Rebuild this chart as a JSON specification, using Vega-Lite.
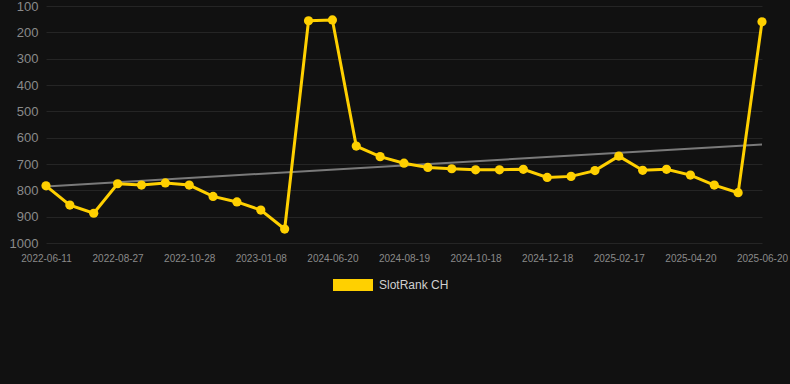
{
  "$schema": "https://vega.github.io/schema/vega-lite/v6.json",
  "width": 716,
  "height": 237,
  "autosize": {"type": "none"},
  "padding": {"left": 46, "top": 6, "right": 28, "bottom": 141},
  "background": "#111111",
  "config": {
    "view": {"stroke": null},
    "font": "Liberation Sans",
    "axis": {"domain": false, "ticks": false, "gridColor": "#252525", "gridWidth": 1, "labelColor": "#8a8a8a"}
  },
  "datasets": {
    "rank": [
      {"date": "2022-06-11", "rank": 783},
      {"date": "2022-07-07", "rank": 856},
      {"date": "2022-08-01", "rank": 887},
      {"date": "2022-08-27", "rank": 775},
      {"date": "2022-09-17", "rank": 780},
      {"date": "2022-10-07", "rank": 772},
      {"date": "2022-10-28", "rank": 780},
      {"date": "2022-11-21", "rank": 823},
      {"date": "2022-12-15", "rank": 844},
      {"date": "2023-01-08", "rank": 875},
      {"date": "2023-02-01", "rank": 947},
      {"date": "2024-05-28", "rank": 156},
      {"date": "2024-06-20", "rank": 153},
      {"date": "2024-07-10", "rank": 632},
      {"date": "2024-07-30", "rank": 672},
      {"date": "2024-08-19", "rank": 697},
      {"date": "2024-09-08", "rank": 713},
      {"date": "2024-09-28", "rank": 718},
      {"date": "2024-10-18", "rank": 722},
      {"date": "2024-11-07", "rank": 722},
      {"date": "2024-11-27", "rank": 720},
      {"date": "2024-12-18", "rank": 751},
      {"date": "2025-01-07", "rank": 747},
      {"date": "2025-01-27", "rank": 725},
      {"date": "2025-02-17", "rank": 670},
      {"date": "2025-03-09", "rank": 724},
      {"date": "2025-03-30", "rank": 720},
      {"date": "2025-04-20", "rank": 742},
      {"date": "2025-05-10", "rank": 780},
      {"date": "2025-05-31", "rank": 809},
      {"date": "2025-06-20", "rank": 160}
    ],
    "trend": [
      {"date": "2022-06-11", "rank": 785},
      {"date": "2025-06-20", "rank": 626}
    ]
  },
  "encoding": {
    "x": {
      "field": "date", "type": "ordinal", "sort": null,
      "scale": {
        "type": "point", "padding": 0,
        "domain": ["2022-06-11","2022-07-07","2022-08-01","2022-08-27","2022-09-17","2022-10-07","2022-10-28","2022-11-21","2022-12-15","2023-01-08","2023-02-01","2024-05-28","2024-06-20","2024-07-10","2024-07-30","2024-08-19","2024-09-08","2024-09-28","2024-10-18","2024-11-07","2024-11-27","2024-12-18","2025-01-07","2025-01-27","2025-02-17","2025-03-09","2025-03-30","2025-04-20","2025-05-10","2025-05-31","2025-06-20"]
      },
      "axis": {
        "title": null, "labelAngle": 0, "labelFontSize": 10, "labelPadding": 10,
        "values": ["2022-06-11","2022-08-27","2022-10-28","2023-01-08","2024-06-20","2024-08-19","2024-10-18","2024-12-18","2025-02-17","2025-04-20","2025-06-20"]
      }
    },
    "y": {
      "field": "rank", "type": "quantitative",
      "scale": {"domain": [100, 1000], "reverse": true, "nice": false, "zero": false},
      "axis": {"title": null, "format": "d", "values": [100,200,300,400,500,600,700,800,900,1000], "labelFontSize": 13, "labelPadding": 8}
    }
  },
  "layer": [
    {
      "data": {"name": "trend"},
      "mark": {"type": "line", "color": "#7a7a7a", "strokeWidth": 2}
    },
    {
      "data": {"name": "rank"},
      "mark": {"type": "line", "strokeWidth": 3},
      "encoding": {
        "color": {
          "datum": "SlotRank CH",
          "scale": {"range": ["#FFD000"]},
          "legend": {
            "title": null, "orient": "none", "legendX": 287, "legendY": 259,
            "symbolType": "M-1,-0.3H1V0.3H-1Z", "symbolSize": 1600,
            "symbolStrokeWidth": 0, "symbolFillColor": "#FFD000",
            "labelColor": "#d0d0d0", "labelFontSize": 12, "labelOffset": 6,
            "encode": {"symbols": {"update": {"fill": {"value": "#FFD000"}, "strokeWidth": {"value": 0}, "opacity": {"value": 1}}}}
          }
        }
      }
    },
    {
      "data": {"name": "rank"},
      "mark": {"type": "point", "filled": true, "size": 85, "opacity": 1, "color": "#FFD000"}
    }
  ]
}
